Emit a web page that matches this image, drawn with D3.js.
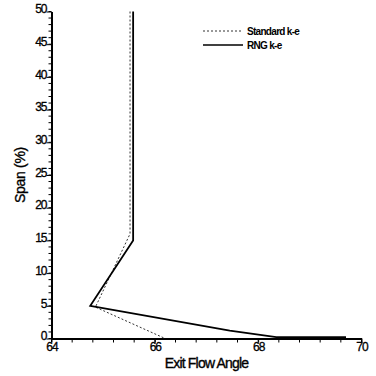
<!DOCTYPE html>
<html lang="en">
<head>
    <style>
        body { margin: 0; background: #fff; }
        .axis text { font-family: "Liberation Sans", Arial, sans-serif; font-size: 12px; letter-spacing: -1px; fill: #000; stroke: #000; stroke-width: 0.3px; }
        .axis path, .axis line { stroke: #000; }
        .title { font-family: "Liberation Sans", Arial, sans-serif; font-size: 14px; fill: #000; stroke: #000; stroke-width: 0.35px; }
    </style>
    <script src="https://d3js.org/d3.v7.min.js"></script>
</head>
<body>
<svg></svg>
<script>
    const width = 376;
    const height = 376;

    // Exit flow angle vs span
    const rngAngle  = [65.58, 65.58, 64.75, 67.45, 68.35, 69.7];
    const rngSpan   = [50, 15, 5, 1.2, 0.2, 0.2];
    const stdAngle  = [65.52, 65.52, 64.85, 66.2];
    const stdSpan   = [50, 16, 4.8, 0];

    const seriesNames = ['Standard k-e', 'RNG k-e'];
    const xTickLabels = [64, 66, 68, 70];
    const yTickLabels = [0, 5, 10, 15, 20, 25, 30, 35, 40, 45, 50];

    const margin = {left: 51.5, right: 14.5, top: 11.5, bottom: 37.5};

    const svg = d3.select('svg').attr('width', width).attr('height', height);

    const x = d3.scaleLinear().domain([64, 70]).range([margin.left, width - margin.right]);
    const y = d3.scaleLinear().domain([0, 50]).range([height - margin.bottom, margin.top]);

    // minor ticks
    const xMinor = d3.range(0, 16).map(i => 64 + i * 0.4);
    const yMinor = d3.range(0, 51);
    svg.append('g')
        .selectAll('line')
        .data(xMinor)
        .join('line')
        .attr('x1', d => x(d)).attr('x2', d => x(d))
        .attr('y1', y(0)).attr('y2', y(0) + 4)
        .attr('stroke', '#000');
    svg.append('g')
        .selectAll('line')
        .data(yMinor)
        .join('line')
        .attr('x1', x(64) - 3).attr('x2', x(64))
        .attr('y1', d => y(d)).attr('y2', d => y(d))
        .attr('stroke', '#000');

    // labelled axes
    const xAxis = svg.append('g')
        .attr('class', 'axis')
        .attr('transform', `translate(0,${y(0)})`)
        .call(d3.axisBottom(x).tickValues(xTickLabels).tickFormat(d3.format('d')).tickSize(4).tickSizeOuter(0).tickPadding(0));
    xAxis.select('.domain').attr('stroke-width', 2);

    const yAxis = svg.append('g')
        .attr('class', 'axis')
        .attr('transform', `translate(${x(64)},0)`)
        .call(d3.axisLeft(y).tickValues(yTickLabels).tickSize(5).tickSizeOuter(0).tickPadding(0));
    yAxis.select('.domain').attr('stroke-width', 2);
    yAxis.selectAll('text').attr('dy', '0.1em');

    svg.append('text')
        .attr('class', 'title')
        .attr('transform', `translate(25,${(y(0) + y(50)) / 2}) rotate(-90)`)
        .attr('text-anchor', 'middle')
        .style('letter-spacing', '-0.3px')
        .text('Span (%)');

    svg.append('text')
        .attr('class', 'title')
        .attr('x', (x(64) + x(70)) / 2)
        .attr('y', 368)
        .attr('text-anchor', 'middle')
        .style('letter-spacing', '-0.8px')
        .text('Exit Flow Angle');

    const line = d3.line().x(d => x(d[0])).y(d => y(d[1]));

    svg.append('path')
        .datum(stdAngle.map((a, i) => [a, stdSpan[i]]))
        .attr('d', line)
        .attr('fill', 'none')
        .attr('stroke', '#333')
        .attr('stroke-width', 1)
        .attr('stroke-dasharray', '2,2');

    svg.append('path')
        .datum(rngAngle.map((a, i) => [a, rngSpan[i]]))
        .attr('d', line)
        .attr('fill', 'none')
        .attr('stroke', '#000')
        .attr('stroke-width', 1.8);

    // legend
    const legend = svg.append('g');
    seriesNames.forEach((name, i) => {
        const ly = 31 + i * 14;
        legend.append('line')
            .attr('x1', 203).attr('x2', 243)
            .attr('y1', ly).attr('y2', ly)
            .attr('stroke', i === 0 ? '#333' : '#000')
            .attr('stroke-width', i === 0 ? 1 : 1.5)
            .attr('stroke-dasharray', i === 0 ? '2,2' : null);
        legend.append('text')
            .attr('x', 247).attr('y', ly + 3.5)
            .style('font-family', '"Liberation Sans", Arial, sans-serif')
            .style('font-size', '10px')
            .style('font-weight', 'bold')
            .style('letter-spacing', '-0.7px')
            .text(name);
    });
</script>
</body>
</html>
